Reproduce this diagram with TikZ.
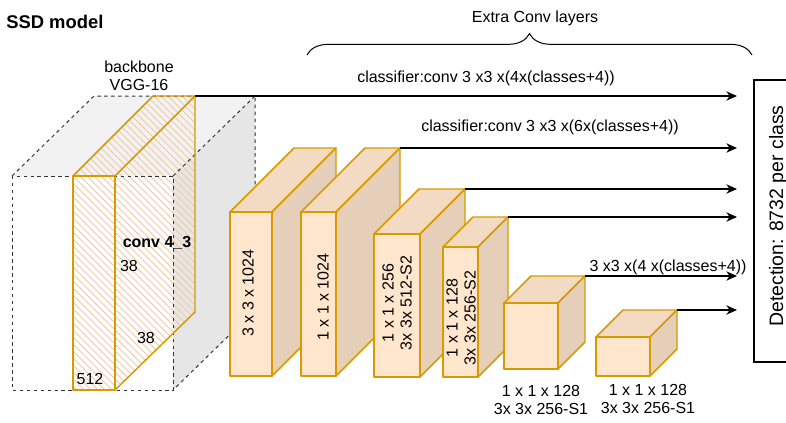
\documentclass[tikz,border=0pt]{standalone}
\usepackage{fontspec}
\setmainfont{Liberation Sans}
\usetikzlibrary{arrows.meta,calc,decorations.pathreplacing}

\definecolor{layerfront}{HTML}{FFE6CC}
\definecolor{layertop}{HTML}{F2DBC2}
\definecolor{layerside}{HTML}{E6CFB8}
\definecolor{layeredge}{HTML}{D79B00}
\definecolor{hatchline}{HTML}{F2C8A0}
\definecolor{vggtop}{HTML}{F2F2F2}
\definecolor{vggside}{HTML}{E6E6E6}
\definecolor{dashgray}{HTML}{333333}

\tikzset{
  layerface/.style={draw=layeredge, line width=1.1pt, line join=round},
  hidden/.style={draw=dashgray, line width=0.75pt, dash pattern=on 2.6pt off 2.6pt},
  headarrow/.style={draw=black, line width=0.9pt, -{Stealth[length=8pt,width=7pt,inset=2.5pt]}},
  lbl/.style={inner sep=0pt, text=black},
  vlbl/.style={inner sep=0pt, rotate=90, align=center},
}

% a draw.io style cuboid: name, left, top, right, bottom, depth
\newcommand{\layerbox}[6]{%
  \coordinate (#1-ftl) at (#2,#3);
  \coordinate (#1-ftr) at (#4,#3);
  \coordinate (#1-fbr) at (#4,#5);
  \coordinate (#1-btl) at ($(#1-ftl)+(#6,-#6)$);
  \coordinate (#1-btr) at ($(#1-ftr)+(#6,-#6)$);
  \coordinate (#1-bbr) at ($(#1-fbr)+(#6,-#6)$);
  \path[layerface, fill=layertop] (#1-ftl) -- (#1-btl) -- (#1-btr) -- (#1-ftr) -- cycle;
  \path[layerface, fill=layerside] (#1-ftr) -- (#1-btr) -- (#1-bbr) -- (#1-fbr) -- cycle;
  \path[layerface, fill=layerfront] (#1-ftl) rectangle (#1-fbr);
}

\begin{document}
\begin{tikzpicture}[x=0.75pt, y=-0.75pt, font=\fontsize{12pt}{13.5pt}\selectfont]
\useasboundingbox (0,0) rectangle (786,422);
\fill[white] (0,0) rectangle (786,422);

% title
\node[lbl, font=\fontsize{13.8pt}{16pt}\selectfont\bfseries, anchor=base west] (title) at (6,28) {SSD model};

% VGG-16 backbone block
\coordinate (v-ftl) at (12,176);
\coordinate (v-ftr) at (173,176);
\coordinate (v-fbr) at (173,390);
\coordinate (v-btl) at (94,96);
\coordinate (v-btr) at (255,96);
\coordinate (v-bbr) at (255,310);
\fill[vggtop] (v-ftl) -- (v-btl) -- (v-btr) -- (v-ftr) -- cycle;
\fill[vggside] (v-ftr) -- (v-btr) -- (v-bbr) -- (v-fbr) -- cycle;

% conv4_3 slab (hatched)
\coordinate (s-ftl) at (73,176);
\coordinate (s-ftr) at (115,176);
\coordinate (s-fbr) at (115,390);
\coordinate (s-fbl) at (73,390);
\coordinate (s-btl) at (153,96);
\coordinate (s-btr) at (195,96);
\coordinate (s-bbr) at (195,312);
\begin{scope}
  \clip (s-fbl) -- (s-ftl) -- (s-btl) -- (s-btr) -- (s-bbr) -- (s-fbr) -- cycle;
  \foreach \k in {-240,-233,...,190} \draw[hatchline, line width=0.6pt] (\k,80) -- ++(330,330);
\end{scope}

% dashed outline of the backbone block
\draw[hidden] (v-ftl) rectangle (v-fbr);
\draw[hidden] (v-ftl) -- (v-btl) -- (v-btr) -- (v-bbr) -- (v-fbr);
\draw[hidden] (v-ftr) -- (v-btr);

% slab outline
\draw[layerface] (s-ftl) rectangle (s-fbr);
\draw[layerface] (s-ftl) -- (s-btl) -- (s-btr) -- (s-ftr);
\draw[layerface] (s-btr) -- (s-bbr) -- (s-fbr);

% backbone labels
\node[lbl, align=center] (vgg) at (139,76) {backbone\\VGG-16};
\node[lbl, font=\fontsize{12pt}{13.5pt}\selectfont\bfseries] (conv) at (157,243) {conv 4\_3};
\node[lbl] (dimh) at (129,266) {38};
\node[lbl] (dimw) at (146,338) {38};
\node[lbl] (dimc) at (90,379) {512};

% extra convolution layers
\layerbox{b1}{230}{212}{272}{376}{64}
\layerbox{b2}{301}{212}{336}{376}{64}
\layerbox{b3}{374}{234}{420}{377}{45}
\layerbox{b4}{443}{247}{478}{377}{30}
\layerbox{b5}{504}{303}{558}{369}{27}
\layerbox{b6}{596}{337}{650}{376}{27}

\node[vlbl] (t1) at (248,293) {3 x 3 x 1024};
\node[vlbl] (t2) at (323,297) {1 x 1 x 1024};
\node[vlbl] (t3) at (397,303) {1 x 1 x 256\\3x 3x 512-S2};
\node[vlbl] (t4) at (461,318) {1 x 1 x 128\\3x 3x 256-S2};
\node[lbl, align=center] (t5) at (541,400) {1 x 1 x 128\\3x 3x 256-S1};
\node[lbl, align=center] (t6) at (648,399) {1 x 1 x 128\\3x 3x 256-S1};

% brace over the extra layers
\draw[decorate, decoration={brace, amplitude=16pt}, line width=0.75pt] (307,55) -- (752,55);
\node[lbl] (extra) at (535,18) {Extra Conv layers};

% detection box
\draw[line width=0.9pt] (792,80) -- (754,80) -- (754,362) -- (792,362);
\node[lbl, rotate=90, anchor=base, font=\fontsize{14.6pt}{16pt}\selectfont] (det) at (783,216) {Detection: 8732 per class};

% classifier heads
\coordinate (e1) at (737,96);
\coordinate (e2) at (737,148);
\coordinate (e3) at (737,189);
\coordinate (e4) at (737,217);
\coordinate (e5) at (737,276);
\coordinate (e6) at (737,310);
\draw[headarrow] (s-btr) -- (e1);
\draw[headarrow] (b2-btr) -- (e2);
\draw[headarrow] (b3-btr) -- (e3);
\draw[headarrow] (b4-btr) -- (e4);
\draw[headarrow] (b5-btr) -- (e5);
\draw[headarrow] (b6-btr) -- (e6);

\node[lbl] (h1) at (486,78) {classifier:conv 3 x3 x(4x(classes+4))};
\node[lbl] (h2) at (550,127) {classifier:conv 3 x3 x(6x(classes+4))};
\node[lbl] (h5) at (668,267) {3 x3 x(4 x(classes+4))};
\end{tikzpicture}
\end{document}
